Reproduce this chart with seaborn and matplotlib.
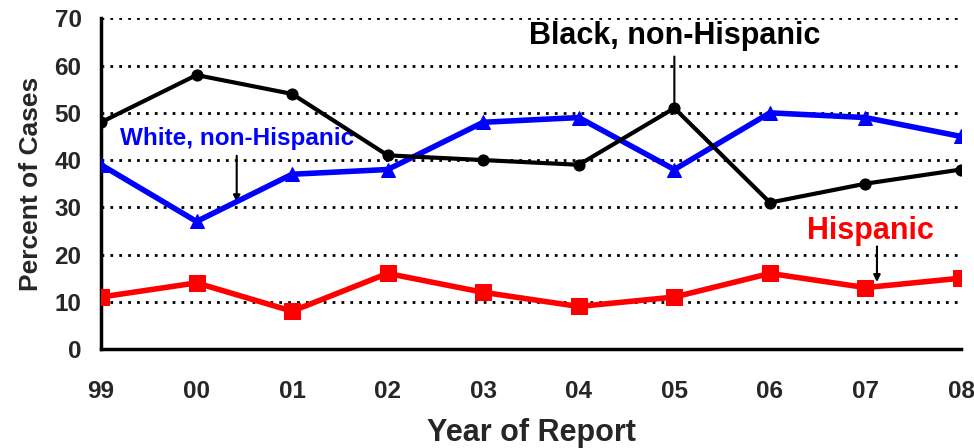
import matplotlib
matplotlib.use("Agg")
import matplotlib.pyplot as plt
import seaborn as sns
import pandas as pd

years = ["99", "00", "01", "02", "03", "04", "05", "06", "07", "08"]
black = [48, 58, 54, 41, 40, 39, 51, 31, 35, 38]
white = [39, 27, 37, 38, 48, 49, 38, 50, 49, 45]
hispanic = [11, 14, 8, 16, 12, 9, 11, 16, 13, 15]

sns.set_style("white")
plt.rcParams["font.family"] = ["Liberation Sans", "DejaVu Sans"]
plt.rcParams["font.weight"] = "bold"

fig = plt.figure(figsize=(9.74, 4.48), dpi=100)
ax = fig.add_axes([0.1037, 0.221, 0.883, 0.738])

idx = list(range(len(years)))
df = pd.DataFrame({"x": idx, "black": black, "white": white, "hisp": hispanic})

for y in range(10, 80, 10):
    ax.axhline(y, color="black", lw=2, ls=(0, (1, 2.2)), zorder=0)

sns.lineplot(data=df, x="x", y="hisp", ax=ax, color="#FF0000", lw=4,
             marker="s", markersize=11, markeredgecolor="#FF0000", zorder=3)
sns.lineplot(data=df, x="x", y="white", ax=ax, color="#0000FF", lw=4,
             marker="^", markersize=10, markeredgecolor="#0000FF", zorder=4)
sns.lineplot(data=df, x="x", y="black", ax=ax, color="black", lw=3,
             marker="o", markersize=8, markeredgecolor="black", zorder=5)

ax.set_xlim(0, 9)
ax.set_ylim(0, 70)
ax.set_xticks(idx)
ax.set_xticklabels(years)
ax.set_yticks(range(0, 80, 10))
ax.tick_params(axis="both", direction="out", length=8, width=2, color="black",
               labelsize=17.5, pad=14)
ax.tick_params(axis="y", pad=6)
for lab in ax.get_xticklabels() + ax.get_yticklabels():
    lab.set_fontweight("bold")

for s in ["top", "right"]:
    ax.spines[s].set_visible(False)
for s in ["left", "bottom"]:
    ax.spines[s].set_color("black")
    ax.spines[s].set_linewidth(2.5)

ax.set_xlabel("Year of Report", fontsize=22, fontweight="bold", labelpad=11)
ax.set_ylabel("Percent of Cases", fontsize=19, fontweight="bold", labelpad=8)

ax.text(1.42, 44.5, "White, non-Hispanic", color="#0000FF", fontsize=17.5,
        fontweight="bold", ha="center", va="center")
ax.annotate("", xy=(1.42, 30.5), xytext=(1.42, 41.5),
            arrowprops=dict(arrowstyle="-|>", color="black", lw=1.5, mutation_scale=10))

ax.text(6, 66.2, "Black, non-Hispanic", color="black", fontsize=22,
        fontweight="bold", ha="center", va="center")
ax.annotate("", xy=(6, 51.5), xytext=(6, 62.5),
            arrowprops=dict(arrowstyle="-", color="black", lw=1.5))

ax.text(8.05, 25.0, "Hispanic", color="#FF0000", fontsize=22,
        fontweight="bold", ha="center", va="center")
ax.annotate("", xy=(8.12, 13.6), xytext=(8.12, 22.3),
            arrowprops=dict(arrowstyle="-|>", color="black", lw=1.5, mutation_scale=10))

fig.savefig("out.png", dpi=100)
